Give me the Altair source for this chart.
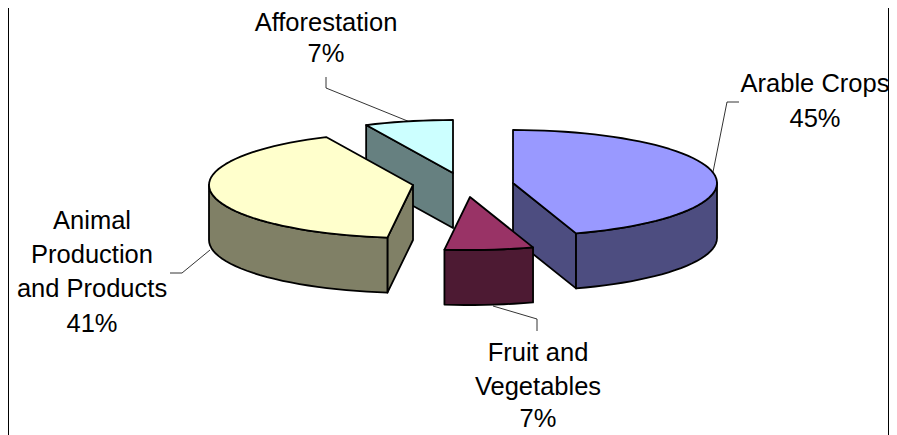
import math
import altair as alt

# Pie content
categories = ["Arable Crops", "Fruit and Vegetables", "Animal Production and Products", "Afforestation"]
shares = [45, 7, 41, 7]
top_colors = ["#9999FF", "#993366", "#FFFFCC", "#CCFFFF"]
side_colors = ["#4D4D80", "#4D1A33", "#808066", "#668080"]
# Exploded centre of each slice on the picture
centres = [(513, 183), (470, 197), (413, 185), (453, 173)]
draw_order = [3, 0, 2, 1]
RX, RY, DEPTH = 204, 53, 55

# Labels, one row per text line
label_lines = ["Afforestation", "7%", "Arable Crops", "45%", "Animal", "Production",
               "and Products", "41%", "Fruit and", "Vegetables", "7%"]
label_x = [326, 326, 815, 815, 92, 92, 92, 92, 538, 538, 538]
label_y = [23, 54, 84, 119, 221, 255, 289, 324, 353, 387, 419]
# Leader lines
leaders = [
    [(326, 77), (326, 88), (410, 122)],
    [(713, 172), (727, 102), (739, 102)],
    [(210, 250), (182, 273), (170, 273)],
    [(493, 306), (537, 319), (537, 331)],
]
# Chart frame, side edges
frame = [
    [(8.5, 0), (8.5, 435)],
    [(888.5, 0), (888.5, 435)],
]


def rim(c, a0, a1, dz=0):
    n = max(2, int(abs(a1 - a0) / 3) + 1)
    pts = []
    for i in range(n + 1):
        a = math.radians(a0 + (a1 - a0) * i / n)
        pts.append([c[0] + RX * math.sin(a), c[1] - RY * math.cos(a) + dz])
    return pts


def poly(pts, color):
    return {"type": "Feature",
            "properties": {"fill": color},
            "geometry": {"type": "Polygon", "coordinates": [pts + [pts[0]]]}}


def polyline(points):
    return {"type": "Feature", "properties": {},
            "geometry": {"type": "LineString", "coordinates": [list(p) for p in points]}}


# Pie layout: angles come from the shares, clockwise from the top of the ellipse
spans = []
start = 0.0
for s in shares:
    spans.append((start, start + s * 3.6))
    start += s * 3.6

features = []
for i in draw_order:
    c = centres[i]
    a0, a1 = spans[i]
    top, side = top_colors[i], side_colors[i]
    # flat cut faces: only those turned to the viewer
    for a, normal in ((a0, a0 - 90), (a1, a1 + 90)):
        if math.cos(math.radians(normal)) < 0:
            e = rim(c, a, a)[0]
            features.append(poly([list(c), e, [e[0], e[1] + DEPTH], [c[0], c[1] + DEPTH]], side))
    # outer wall: part of the rim on the near half
    w0, w1 = max(a0, 90), min(a1, 270)
    if w1 > w0:
        upper = rim(c, w0, w1)
        lower = rim(c, w0, w1, DEPTH)
        features.append(poly(upper + lower[::-1], side))
    # top face
    features.append(poly([list(c)] + rim(c, a0, a1), top))

PROJ = dict(type="identity", scale=1, translate=[-8, -8])

frame_layer = alt.Chart(alt.Data(values=[polyline(l) for l in frame])).mark_geoshape(
    filled=False, stroke="black", strokeWidth=1
).project(**PROJ)

leader_layer = alt.Chart(alt.Data(values=[polyline(l) for l in leaders])).mark_geoshape(
    filled=False, stroke="black", strokeWidth=0.8
).project(**PROJ)

shapes = alt.Chart(alt.Data(values=features)).mark_geoshape(
    stroke="black", strokeWidth=1.8, strokeJoin="round"
).encode(fill=alt.Fill("properties.fill:N", scale=None)).project(**PROJ)

text = alt.Chart(alt.Data(values=[
    {"t": t, "x": x, "y": y} for t, x, y in zip(label_lines, label_x, label_y)
])).mark_text(
    font="Liberation Sans", fontSize=25.5, color="black", align="center", baseline="middle"
).encode(longitude="x:Q", latitude="y:Q", text="t:N").project(**PROJ)

chart = alt.layer(frame_layer, leader_layer, shapes, text).properties(
    width=881, height=427, padding=0, background="white"
).configure_view(stroke=None)

chart.save("out.html", embed_options={"renderer": "svg", "actions": False})
